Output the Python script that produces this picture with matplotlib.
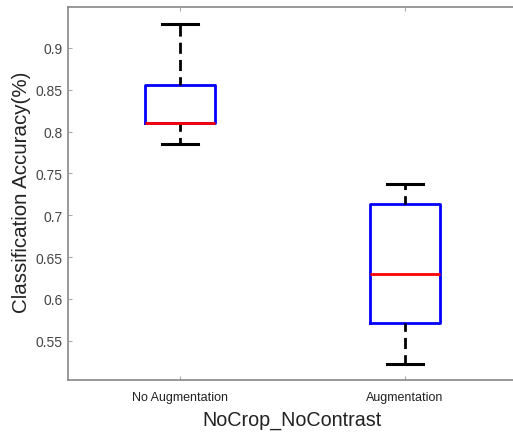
import matplotlib.pyplot as plt
from matplotlib.ticker import FixedLocator, FixedFormatter

plt.rcParams['font.family'] = ['Liberation Sans', 'DejaVu Sans']

# values
groups = ['No Augmentation', 'Augmentation']
q1 = [0.810, 0.571]
med = [0.810, 0.630]
q3 = [0.856, 0.714]
whislo = [0.785, 0.522]
whishi = [0.929, 0.737]
yticks = [0.55, 0.6, 0.65, 0.7, 0.75, 0.8, 0.85, 0.9]

stats = []
for i in range(len(groups)):
    stats.append(dict(label=groups[i], q1=q1[i], med=med[i], q3=q3[i],
                      whislo=whislo[i], whishi=whishi[i], fliers=[]))

fig = plt.figure(figsize=(5.13, 4.35), dpi=100)
ax = fig.add_axes([67.5/513, 54/435, 450/513, 373/435])

ax.bxp(stats, positions=[1, 2], widths=0.31, showfliers=False,
       boxprops=dict(color='#0000ff', linewidth=2),
       medianprops=dict(color='#ff0000', linewidth=2),
       whiskerprops=dict(color='black', linewidth=2, linestyle=(1, (4, 2.2))),
       capprops=dict(color='black', linewidth=2.2),
       capwidths=0.16)

ax.set_xlim(0.5, 2.5)
ax.set_ylim(0.503, 0.949)
ax.yaxis.set_major_locator(FixedLocator(yticks))
ax.yaxis.set_major_formatter(FixedFormatter(['%g' % v for v in yticks]))
ax.set_xticks([1, 2])
ax.set_xticklabels(groups, fontsize=9, color='#222222')

ax.tick_params(axis='y', labelsize=10, colors='#444444', labelcolor='#444444')
ax.tick_params(direction='in', top=True, right=True, length=3, width=0.8,
               color='#aaaaaa')
ax.tick_params(axis='x', pad=8)
for s in ax.spines.values():
    s.set_color('#888888')
    s.set_linewidth(1.2)

ax.set_ylabel('Classification Accuracy(%)', fontsize=14.8, color='#222222', labelpad=3)
ax.yaxis.label.set_y(0.505)
ax.set_xlabel('NoCrop_NoContrast', fontsize=14.2, color='#222222', labelpad=5)

fig.savefig('out.png', dpi=100)
